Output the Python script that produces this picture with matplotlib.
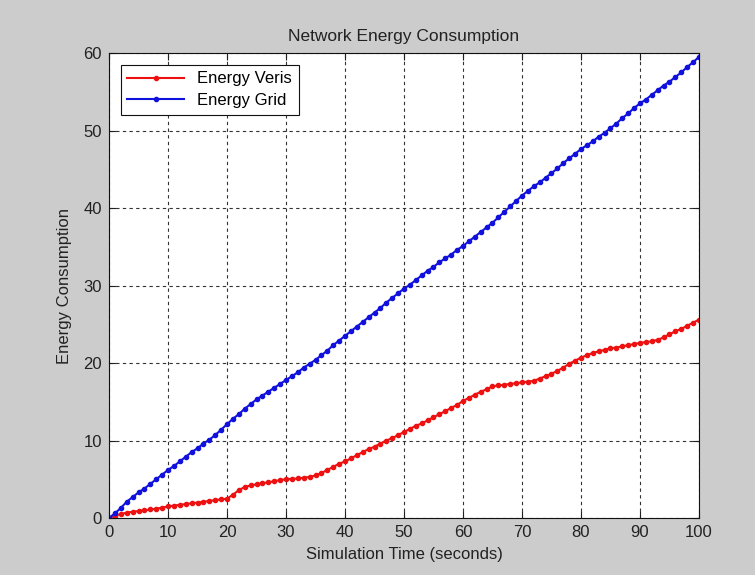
import matplotlib.pyplot as plt

plt.rcParams['font.family'] = ['Liberation Sans', 'DejaVu Sans']

time_s = list(range(0, 101))

energy_veris = [
    0.0, 0.3, 0.5, 0.7, 0.8, 0.9, 1.0, 1.1, 1.2, 1.35,
    1.5, 1.6, 1.7, 1.8, 1.9, 2.0, 2.1, 2.2, 2.3, 2.4,
    2.5, 3.0, 3.6, 4.0, 4.2, 4.35, 4.5, 4.6, 4.75, 4.9,
    5.0, 5.05, 5.1, 5.2, 5.3, 5.5, 5.8, 6.2, 6.6, 7.0,
    7.3, 7.7, 8.1, 8.5, 8.9, 9.2, 9.6, 10.0, 10.3, 10.7,
    11.1, 11.5, 11.9, 12.2, 12.6, 13.0, 13.4, 13.8, 14.2, 14.6,
    15.1, 15.5, 15.9, 16.3, 16.6, 17.0, 17.1, 17.2, 17.3, 17.4,
    17.5, 17.6, 17.7, 18.0, 18.3, 18.6, 19.0, 19.4, 19.9, 20.3,
    20.7, 21.0, 21.3, 21.5, 21.7, 21.9, 22.0, 22.15, 22.3, 22.45,
    22.6, 22.7, 22.8, 23.0, 23.3, 23.7, 24.1, 24.4, 24.8, 25.2,
    25.6,
]

energy_grid = [
    0.0, 0.6, 1.3, 2.1, 2.7, 3.3, 3.8, 4.4, 5.0, 5.6,
    6.2, 6.7, 7.3, 7.9, 8.5, 9.0, 9.6, 10.1, 10.7, 11.4,
    12.1, 12.8, 13.4, 14.1, 14.7, 15.3, 15.8, 16.3, 16.8, 17.3,
    17.8, 18.3, 18.8, 19.4, 19.9, 20.4, 21.0, 21.6, 22.3, 22.9,
    23.5, 24.1, 24.7, 25.3, 25.9, 26.5, 27.1, 27.8, 28.4, 29.0,
    29.6, 30.1, 30.7, 31.3, 31.9, 32.4, 33.0, 33.5, 34.0, 34.6,
    35.1, 35.7, 36.3, 36.9, 37.5, 38.1, 38.8, 39.5, 40.2, 40.9,
    41.6, 42.2, 42.8, 43.3, 43.9, 44.5, 45.1, 45.8, 46.4, 47.0,
    47.6, 48.1, 48.6, 49.2, 49.7, 50.3, 50.9, 51.6, 52.2, 52.9,
    53.5, 54.0, 54.6, 55.2, 55.8, 56.3, 56.9, 57.5, 58.2, 58.8,
    59.5,
]

fig = plt.figure(figsize=(7.55, 5.75), dpi=100, facecolor='#cccccc')
ax = fig.add_axes([0.1444, 0.0991, 0.7814, 0.8087])
ax.set_facecolor('white')

ax.plot(time_s, energy_veris, color='#ee1111', marker='.', markersize=6, linewidth=1.5, label='Energy Veris')
ax.plot(time_s, energy_grid, color='#1111dd', marker='.', markersize=6, linewidth=1.5, label='Energy Grid')

ax.set_xlim(0, 100)
ax.set_ylim(0, 60)
ax.set_xticks(range(0, 101, 10))
ax.set_yticks(range(0, 61, 10))
ax.tick_params(direction='in', labelsize=12, colors='#222222', top=True, right=True, length=5, pad=5)
ax.grid(True, linestyle=(0, (3, 3)), color='#333333', linewidth=0.8)
for s in ax.spines.values():
    s.set_color('#111111')

ax.set_title('Network Energy Consumption', fontsize=12.5, color='#222222', pad=9)
ax.set_xlabel('Simulation Time (seconds)', fontsize=12, color='#222222', labelpad=5)
ax.set_ylabel('Energy Consumption', fontsize=12, color='#222222', labelpad=8)

leg = ax.legend(loc='upper left', fontsize=12, fancybox=False, framealpha=1,
                edgecolor='#111111', borderaxespad=0.7, handlelength=3.4,
                labelspacing=0.4)
leg.get_frame().set_linewidth(0.8)

fig.savefig('out.png', dpi=100, facecolor=fig.get_facecolor())
